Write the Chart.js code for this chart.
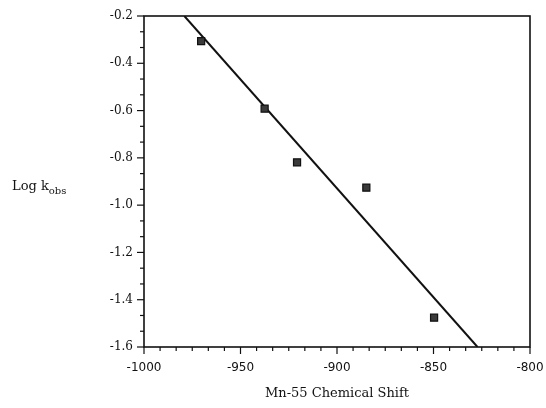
<!DOCTYPE html>
<html>
<head>
<meta charset="utf-8">
<script src="https://cdn.jsdelivr.net/npm/chart.js@4/dist/chart.umd.min.js"></script>
<style>
  html, body { margin: 0; padding: 0; background: #ffffff; }
  #wrap { width: 546px; height: 408px; }
</style>
</head>
<body>
<div id="wrap"><canvas id="chart" width="546" height="408"></canvas></div>
<script>
// measured points (chemical shift, log k_obs)
const shifts = [-970.4, -937.5, -920.7, -884.8, -849.7];
const logK = [-0.306, -0.592, -0.819, -0.926, -1.476];

// fitted line end points
const fitX = [-979.1, -827.2];
const fitY = [-0.2, -1.6];

const xTicks = [-1000, -950, -900, -850, -800];
const yTicks = [-1.6, -1.4, -1.2, -1.0, -0.8, -0.6, -0.4, -0.2];

const ink = '#111111';

const frame = {
    id: 'frame',
    afterDraw(chart) {
        const { ctx, chartArea: a, scales } = chart;
        const xs = scales.x, ys = scales.y;
        ctx.save();
        ctx.strokeStyle = ink;
        ctx.lineWidth = 1.6;
        ctx.strokeRect(a.left, a.top, a.right - a.left, a.bottom - a.top);

        // x ticks, six divisions between labels, pointing down
        ctx.lineWidth = 1.2;
        for (let i = 0; i < xTicks.length - 1; i++) {
            for (let k = 0; k < 6; k++) {
                const v = xTicks[i] + k * (xTicks[i + 1] - xTicks[i]) / 6;
                const px = xs.getPixelForValue(v);
                ctx.beginPath();
                ctx.moveTo(px, a.bottom);
                ctx.lineTo(px, a.bottom + (k === 0 ? 7 : 4));
                ctx.stroke();
            }
        }
        const last = xs.getPixelForValue(xTicks[xTicks.length - 1]);
        ctx.beginPath();
        ctx.moveTo(last, a.bottom);
        ctx.lineTo(last, a.bottom + 7);
        ctx.stroke();

        // y ticks, three divisions, pointing left
        for (let i = 0; i < yTicks.length; i++) {
            const py = ys.getPixelForValue(yTicks[i]);
            ctx.beginPath();
            ctx.moveTo(a.left, py);
            ctx.lineTo(a.left - 7, py);
            ctx.stroke();
            if (i < yTicks.length - 1) {
                for (let k = 1; k < 3; k++) {
                    const v = yTicks[i] + k * (yTicks[i + 1] - yTicks[i]) / 3;
                    const pm = ys.getPixelForValue(v);
                    ctx.beginPath();
                    ctx.moveTo(a.left, pm);
                    ctx.lineTo(a.left - 4, pm);
                    ctx.stroke();
                }
            }
        }

        // axis titles
        ctx.fillStyle = ink;
        ctx.font = '13px "DejaVu Serif"';
        ctx.textAlign = 'center';
        ctx.textBaseline = 'middle';
        ctx.fillText('Mn-55 Chemical Shift', (a.left + a.right) / 2, 394);

        ctx.textAlign = 'left';
        ctx.textBaseline = 'alphabetic';
        const base = 190;
        ctx.fillText('Log k', 12, base);
        const w = ctx.measureText('Log k').width;
        ctx.font = '10px "DejaVu Serif"';
        ctx.fillText('obs', 12 + w, base + 4);
        ctx.restore();
    }
};

new Chart(document.getElementById('chart').getContext('2d'), {
    type: 'scatter',
    data: {
        datasets: [{
            label: 'data',
            data: shifts.map((x, i) => ({ x: x, y: logK[i] })),
            pointStyle: 'rect',
            pointRadius: 5,
            pointBackgroundColor: '#3a3a3a',
            pointBorderColor: ink,
            pointBorderWidth: 1.2
        }, {
            label: 'fit',
            data: fitX.map((x, i) => ({ x: x, y: fitY[i] })),
            showLine: true,
            borderColor: ink,
            borderWidth: 2,
            pointRadius: 0
        }]
    },
    options: {
        responsive: false,
        animation: false,
        layout: { padding: { left: 0, right: 16, top: 16, bottom: 0 } },
        plugins: {
            legend: { display: false },
            tooltip: { enabled: false }
        },
        scales: {
            x: {
                type: 'linear',
                min: -1000,
                max: -800,
                afterFit(s) { s.height = 61; s.paddingRight = 0; s.paddingLeft = 0; },
                grid: { display: false, drawTicks: false },
                border: { display: false },
                ticks: {
                    stepSize: 50,
                    padding: 14,
                    color: ink,
                    font: { family: '"DejaVu Sans"', size: 12 },
                    callback: v => xTicks.includes(v) ? String(v) : ''
                }
            },
            y: {
                type: 'linear',
                min: -1.6,
                max: -0.2,
                afterFit(s) { s.width = 144; s.paddingTop = 0; s.paddingBottom = 0; },
                grid: { display: false, drawTicks: false },
                border: { display: false },
                ticks: {
                    stepSize: 0.2,
                    padding: 11,
                    color: ink,
                    font: { family: '"DejaVu Serif"', size: 12 },
                    callback: v => Number(v).toFixed(1)
                }
            }
        }
    },
    plugins: [frame]
});
</script>
</body>
</html>
